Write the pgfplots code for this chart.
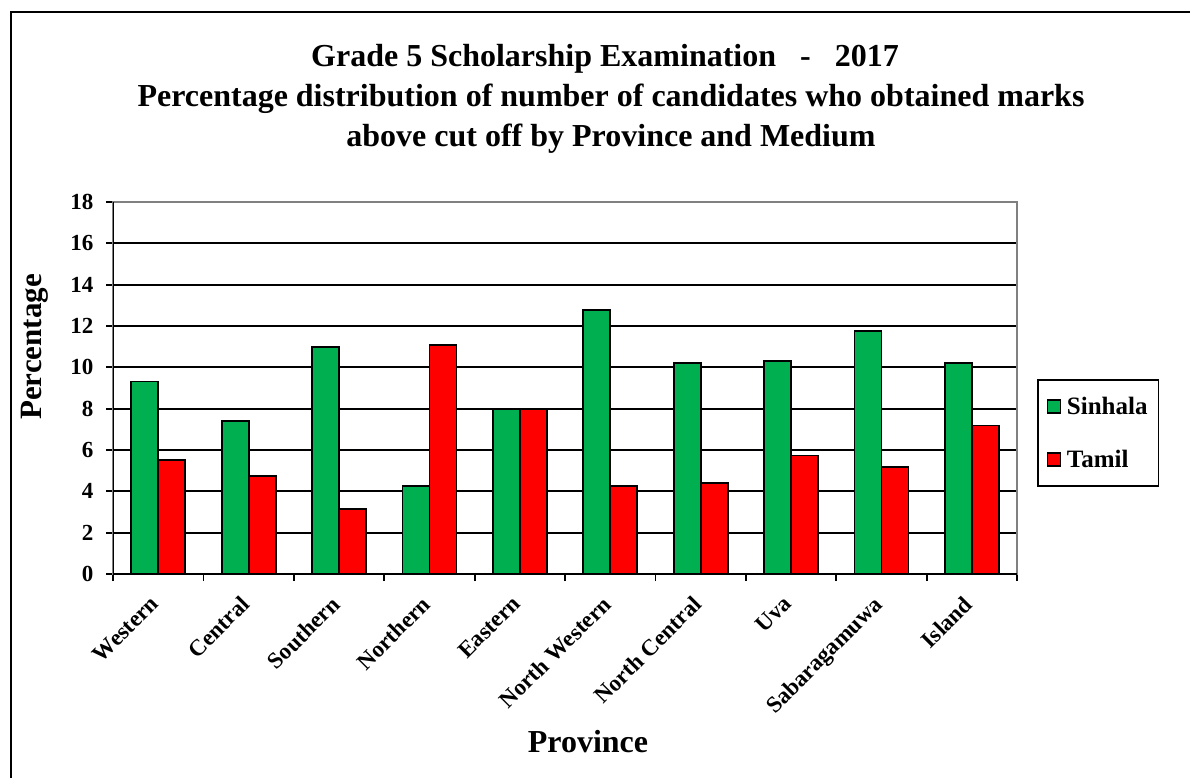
\documentclass[border=0pt]{standalone}
\usepackage{fontspec}
\setmainfont{Liberation Serif}
\usepackage{pgfplots}
\pgfplotsset{compat=1.18}
\definecolor{cSinhala}{HTML}{00B050}
\definecolor{cTamil}{HTML}{FF0000}

\begin{document}
\begin{tikzpicture}
\useasboundingbox (0,0) rectangle (1190pt,-778pt);
\draw[line width=2pt] (11pt,-778pt) -- (11pt,-12pt) -- (1190pt,-12pt);

% titles
\node[anchor=base, font=\bfseries\fontsize{32}{32}\selectfont] at (605pt,-67pt) {Grade 5 Scholarship Examination ~~-~~ 2017};
\node[anchor=base, font=\bfseries\fontsize{32}{32}\selectfont] at (611pt,-107pt) {Percentage distribution of number of candidates who obtained marks};
\node[anchor=base, font=\bfseries\fontsize{32}{32}\selectfont] at (611pt,-146.5pt) {above cut off by Province and Medium};

\begin{axis}[
    at={(113pt,-574pt)}, anchor=south west,
    width=904pt, height=372pt, scale only axis,
    ybar=0pt, bar width=27pt,
    xmin=-0.5, xmax=9.5, ymin=0, ymax=18,
    xtick={-0.5,0.5,...,9.5}, xticklabels={},
    extra x ticks={0,1,2,3,4,5,6,7,8,9},
    extra x tick labels={Western,Central,Southern,Northern,Eastern,North Western,North Central,Uva,Sabaragamuwa,Island},
    extra x tick style={major tick length=0pt},
    xticklabel style={rotate=45, anchor=north east, inner sep=0pt, xshift=-21pt, yshift=-8pt,
                      font=\bfseries\fontsize{23}{23}\selectfont},
    ytick={0,2,...,18},
    yticklabel style={font=\bfseries\fontsize{23}{23}\selectfont, xshift=-9pt},
    /pgf/number format/assume math mode=true,
    xtick pos=left, ytick pos=left,
    tick align=outside, major tick length=7pt,
    tick style={black, line width=1.8pt},
    ymajorgrids, grid style={black, line width=1.8pt},
    axis line style={draw=gray, line width=1.8pt},
    legend style={at={(1.0218,0.5234)}, anchor=north west,
                  draw=black, line width=1.8pt,
                  font=\bfseries\fontsize{25}{25}\selectfont,
                  inner xsep=9pt, inner ysep=15pt, row sep=30pt,
                  /tikz/every odd column/.append style={column sep=4pt}},
    legend cell align=left,
  ]
  \addplot[fill=cSinhala, draw=black, line width=1.8pt,
    legend image code/.code={\draw[fill=cSinhala, draw=black, line width=1.3pt] (0pt,-6.5pt) rectangle (13pt,6.5pt);}]
    coordinates {(0,9.31) (1,7.41) (2,10.99) (3,4.27) (4,7.97) (5,12.77) (6,10.20) (7,10.31) (8,11.75) (9,10.20)};
  \addplot[fill=cTamil, draw=black, line width=1.8pt,
    legend image code/.code={\draw[fill=cTamil, draw=black, line width=1.3pt] (0pt,-6.5pt) rectangle (13pt,6.5pt);}]
    coordinates {(0,5.50) (1,4.73) (2,3.16) (3,11.09) (4,7.97) (5,4.27) (6,4.39) (7,5.73) (8,5.18) (9,7.19)};
  \legend{Sinhala, Tamil}
  \draw[gray, line width=1.8pt] (rel axis cs:0,1) -- (rel axis cs:1,1) -- (rel axis cs:1,0);
  \draw[black, line width=2pt] (rel axis cs:0,1) -- (rel axis cs:0,0) -- (rel axis cs:1,0);
\end{axis}

\node[rotate=90, font=\bfseries\fontsize{31}{31}\selectfont] at (35pt,-347pt) {Percentage};
\node[anchor=base, font=\bfseries\fontsize{32}{32}\selectfont] at (588pt,-752pt) {Province};
\end{tikzpicture}
\end{document}
